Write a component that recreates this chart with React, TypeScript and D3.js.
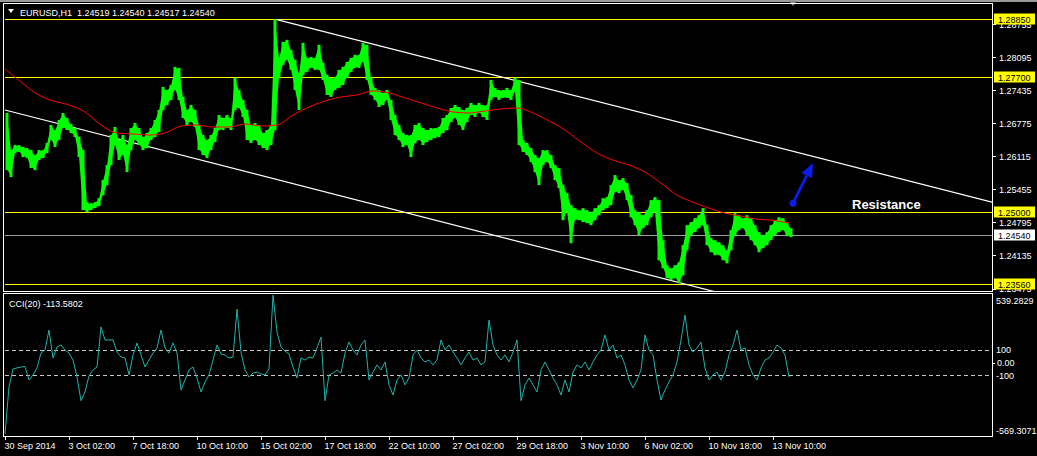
import React from 'react';
import * as d3 from 'd3';

const W = 1037;
const H = 456;

// ---- data ----
const symbolTitle = 'EURUSD,H1  1.24519 1.24540 1.24517 1.24540';
const cciTitle = 'CCI(20) -113.5802';
const groupSize = 4; // hours per sampled bar

const highs = [
  1.2698, 1.2624, 1.2634, 1.2634, 1.2630, 1.2628, 1.2624, 1.2614, 1.2624, 1.2624,
  1.2638, 1.2674, 1.2664, 1.2684, 1.2698, 1.2688, 1.2676, 1.2668, 1.2650, 1.2624,
  1.2520, 1.2518, 1.2520, 1.2528, 1.2564, 1.2594, 1.2654, 1.2670, 1.2644, 1.2654,
  1.2634, 1.2668, 1.2678, 1.2668, 1.2650, 1.2658, 1.2668, 1.2684, 1.2704, 1.2750,
  1.2744, 1.2754, 1.2790, 1.2788, 1.2730, 1.2704, 1.2714, 1.2704, 1.2674, 1.2654,
  1.2644, 1.2654, 1.2668, 1.2694, 1.2688, 1.2694, 1.2688, 1.2768, 1.2744, 1.2724,
  1.2704, 1.2674, 1.2678, 1.2674, 1.2658, 1.2664, 1.2674, 1.2885, 1.2808, 1.2840,
  1.2844, 1.2824, 1.2804, 1.2778, 1.2838, 1.2808, 1.2810, 1.2808, 1.2834, 1.2798,
  1.2774, 1.2768, 1.2770, 1.2784, 1.2790, 1.2800, 1.2808, 1.2814, 1.2814, 1.2838,
  1.2834, 1.2768, 1.2748, 1.2744, 1.2738, 1.2744, 1.2724, 1.2694, 1.2674, 1.2658,
  1.2654, 1.2654, 1.2674, 1.2678, 1.2668, 1.2664, 1.2668, 1.2668, 1.2670, 1.2688,
  1.2694, 1.2708, 1.2714, 1.2710, 1.2704, 1.2708, 1.2718, 1.2714, 1.2718, 1.2714,
  1.2714, 1.2764, 1.2748, 1.2744, 1.2744, 1.2748, 1.2744, 1.2768, 1.2764, 1.2644,
  1.2638, 1.2628, 1.2614, 1.2608, 1.2624, 1.2624, 1.2614, 1.2594, 1.2588, 1.2554,
  1.2538, 1.2514, 1.2508, 1.2504, 1.2508, 1.2504, 1.2500, 1.2508, 1.2514, 1.2528,
  1.2530, 1.2554, 1.2574, 1.2564, 1.2568, 1.2558, 1.2534, 1.2504, 1.2500, 1.2494,
  1.2504, 1.2524, 1.2530, 1.2524, 1.2444, 1.2394, 1.2388, 1.2394, 1.2400, 1.2434,
  1.2474, 1.2480, 1.2488, 1.2494, 1.2508, 1.2474, 1.2448, 1.2444, 1.2440, 1.2434,
  1.2424, 1.2464, 1.2498, 1.2494, 1.2488, 1.2494, 1.2488, 1.2474, 1.2460, 1.2454,
  1.2460, 1.2474, 1.2484, 1.2490, 1.2488, 1.2480, 1.2468,
];

const lows = [
  1.2584, 1.2570, 1.2618, 1.2620, 1.2610, 1.2608, 1.2588, 1.2584, 1.2604, 1.2608,
  1.2618, 1.2644, 1.2630, 1.2644, 1.2668, 1.2664, 1.2658, 1.2650, 1.2610, 1.2504,
  1.2500, 1.2504, 1.2508, 1.2512, 1.2534, 1.2554, 1.2594, 1.2634, 1.2604, 1.2614,
  1.2580, 1.2624, 1.2644, 1.2634, 1.2624, 1.2628, 1.2644, 1.2650, 1.2660, 1.2704,
  1.2714, 1.2724, 1.2744, 1.2724, 1.2688, 1.2674, 1.2680, 1.2670, 1.2624, 1.2614,
  1.2608, 1.2624, 1.2640, 1.2664, 1.2664, 1.2668, 1.2664, 1.2704, 1.2708, 1.2690,
  1.2644, 1.2638, 1.2644, 1.2634, 1.2628, 1.2624, 1.2634, 1.2664, 1.2768, 1.2794,
  1.2804, 1.2784, 1.2744, 1.2704, 1.2774, 1.2780, 1.2788, 1.2784, 1.2784, 1.2764,
  1.2734, 1.2730, 1.2744, 1.2748, 1.2754, 1.2768, 1.2780, 1.2788, 1.2788, 1.2800,
  1.2764, 1.2734, 1.2724, 1.2710, 1.2714, 1.2724, 1.2684, 1.2654, 1.2644, 1.2630,
  1.2634, 1.2610, 1.2638, 1.2644, 1.2634, 1.2640, 1.2644, 1.2648, 1.2650, 1.2658,
  1.2664, 1.2680, 1.2688, 1.2674, 1.2664, 1.2680, 1.2694, 1.2690, 1.2698, 1.2690,
  1.2684, 1.2724, 1.2730, 1.2724, 1.2728, 1.2728, 1.2724, 1.2740, 1.2634, 1.2620,
  1.2614, 1.2600, 1.2580, 1.2554, 1.2594, 1.2600, 1.2588, 1.2564, 1.2548, 1.2484,
  1.2500, 1.2438, 1.2484, 1.2484, 1.2480, 1.2478, 1.2474, 1.2484, 1.2494, 1.2504,
  1.2508, 1.2514, 1.2540, 1.2538, 1.2544, 1.2524, 1.2490, 1.2474, 1.2454, 1.2468,
  1.2474, 1.2490, 1.2500, 1.2404, 1.2388, 1.2368, 1.2364, 1.2368, 1.2358, 1.2374,
  1.2424, 1.2454, 1.2460, 1.2468, 1.2474, 1.2434, 1.2420, 1.2414, 1.2414, 1.2404,
  1.2398, 1.2424, 1.2454, 1.2464, 1.2468, 1.2454, 1.2444, 1.2434, 1.2420, 1.2428,
  1.2434, 1.2444, 1.2454, 1.2460, 1.2464, 1.2452, 1.2450,
];

const maStep = 16;
const maValues = [
  1.2786, 1.2760, 1.2736, 1.2722, 1.2714, 1.2700, 1.2674, 1.2658, 1.2656, 1.2654,
  1.2658, 1.2672, 1.2674, 1.2670, 1.2670, 1.2676, 1.2672, 1.2674, 1.2694, 1.2710,
  1.2722, 1.2730, 1.2734, 1.2742, 1.2738, 1.2728, 1.2718, 1.2708, 1.2700, 1.2698,
  1.2702, 1.2706, 1.2708, 1.2698, 1.2682, 1.2664, 1.2640, 1.2618, 1.2604, 1.2594,
  1.2580, 1.2558, 1.2534, 1.2520, 1.2508, 1.2498, 1.2492, 1.2486, 1.2484, 1.2478,
];

const cciStep = 4;
const cciValues = [
  -560, -190, -50, -42, -35, -30, -137, -97, -42, 75,
  99, 256, 36, 123, 138, 99, 75, 20, -113, -300,
  -230, -105, -58, -35, 280, 178, 178, 178, 83, 44,
  36, -97, 60, 154, 60, -35, 20, 75, 115, 256,
  115, 75, 154, 75, -215, -137, -58, -35, -121, -231,
  -152, -97, 20, 138, 68, 60, 36, 44, 420, 83,
  -58, -113, -82, -74, -90, -97, -50, 530, 240, 123,
  91, 68, -35, -121, 36, 20, 44, 36, 115, 200,
  -300, -97, -82, -58, -82, 75, 162, 99, 60, 138,
  178, -137, -74, -18, -58, 5, -175, -255, -137, -97,
  -175, -121, 60, 99, 36, 5, 20, -18, 20, 178,
  99, 138, 83, 36, -18, 36, 83, 20, 36, -18,
  5, 335, 138, 60, 20, 60, 5, 83, 178, -300,
  -175, -121, -175, -231, -58, 5, -58, -121, -175, -255,
  -137, -231, -74, -18, -42, 5, -58, 5, 60, 99,
  217, 99, 138, 36, 60, -18, -137, -199, -137, -58,
  217, 99, 60, -137, -294, -215, -152, -97, 5, 178,
  374, 138, 83, 115, 162, -42, -137, -97, -74, -137,
  -74, 60, 138, 256, 99, 115, -18, -97, -137, -42,
  20, 36, 83, 138, 115, 60, -114,
];

const cciMax = 539.2829;
const cciMin = -569.3071;
const cciLevels = [100, -100];

const priceMax = 1.2885;
const priceMin = 1.2356;
const priceTicks = [1.28755, 1.28095, 1.27435, 1.26775, 1.26115, 1.25455, 1.24795, 1.24135, 1.23475];
const yellowLevels = [1.2885, 1.277, 1.25, 1.2356];
const lastPrice = 1.2454;

const timeLabels = [
  '30 Sep 2014', '3 Oct 02:00', '7 Oct 18:00', '10 Oct 10:00', '15 Oct 02:00',
  '17 Oct 18:00', '22 Oct 10:00', '27 Oct 02:00', '29 Oct 18:00', '3 Nov 10:00',
  '6 Nov 02:00', '10 Nov 18:00', '13 Nov 10:00',
];
const timeLabelStep = 64; // bars between labels
const visibleBars = 987;
const shiftMarkerBar = 788;

const channelUpper = [{ bar: 271, price: 1.2885 }, { bar: 987, price: 1.252 }];
const channelLower = [{ bar: 0, price: 1.2704 }, { bar: 720, price: 1.2336 }];

const arrowFrom = { bar: 788, price: 1.2518 };
const arrowTo = { bar: 808, price: 1.2598 };
const resistanceLabel = { bar: 847, price: 1.2506, text: 'Resistance' };

// ---- layout ----
const plotL = 5;
const plotR = 992;
const mainTop = 3;
const mainBot = 291;
const cciTop = 293;
const cciBot = 436;
const FONT = '"Liberation Sans", Arial, sans-serif';

export default function App() {
  const x = d3.scaleLinear().domain([0, visibleBars]).range([plotL, plotR]);
  const y = d3.scaleLinear().domain([priceMin, priceMax]).range([284.3, 19.3]);
  const yc = d3.scaleLinear().domain([cciMin, cciMax]).range([435, 294]);

  const priceBand = d3
    .area<number>()
    .x((_, i) => x(i * groupSize + groupSize / 2))
    .y0((_, i) => y(lows[i]) - 1)
    .y1((d) => y(d) + 1)
    .curve(d3.curveLinear);

  const maLine = d3
    .line<number>()
    .x((_, i) => x(i * maStep))
    .y((d) => y(d))
    .curve(d3.curveMonotoneX);

  const cciLine = d3
    .line<number>()
    .x((_, i) => x(i * cciStep))
    .y((d) => yc(d));

  const chan = d3
    .line<{ bar: number; price: number }>()
    .x((d) => x(d.bar))
    .y((d) => y(d.price));

  // arrow geometry
  const ax0 = x(arrowFrom.bar), ay0 = y(arrowFrom.price);
  const ax1 = x(arrowTo.bar), ay1 = y(arrowTo.price);
  const len = Math.hypot(ax1 - ax0, ay1 - ay0);
  const ux = (ax1 - ax0) / len, uy = (ay1 - ay0) / len;
  const headL = 14, headW = 6;
  const bx = ax1 - ux * headL, by = ay1 - uy * headL;
  const head = `${ax1},${ay1} ${bx - uy * headW},${by + ux * headW} ${bx + uy * headW},${by - ux * headW}`;

  const labelBox = (v: number, bg: string, key: string) => (
    <g key={key}>
      <rect x={994} y={Math.round(y(v)) - 5.5} width={41} height={11} fill={bg} />
      <text x={998} y={Math.round(y(v)) + 3.5} fontSize={9} fill="#000" fontFamily={FONT}>
        {v.toFixed(5)}
      </text>
    </g>
  );

  const sx = x(shiftMarkerBar);

  return (
    <svg
      width={W}
      height={H}
      style={{ position: 'absolute', left: 0, top: 0, background: '#000' }}
    >
      <defs>
        <clipPath id="mainClip">
          <rect x={plotL - 1} y={mainTop + 1} width={plotR - plotL + 1} height={mainBot - mainTop - 1} />
        </clipPath>
        <clipPath id="cciClip">
          <rect x={plotL - 1} y={cciTop + 1} width={plotR - plotL + 1} height={cciBot - cciTop - 1} />
        </clipPath>
        <clipPath id="axisClip">
          <rect x={993} y={mainTop + 1} width={44} height={mainBot - mainTop} />
        </clipPath>
      </defs>
      <rect x={0} y={0} width={W} height={H} fill="#000" />
      <rect x={0} y={0} width={W} height={2} fill="#9a9a9a" />
      <polygon points={`${sx - 4},1 ${sx + 4},1 ${sx},6`} fill="#8a8a8a" />

      {/* frames */}
      <rect x={3.5} y={mainTop + 0.5} width={plotR - 3} height={mainBot - mainTop} fill="none" stroke="#fff" />
      <rect x={3.5} y={cciTop + 0.5} width={plotR - 3} height={cciBot - cciTop} fill="none" stroke="#fff" />

      <g clipPath="url(#mainClip)">
        {/* horizontal levels */}
        {yellowLevels.map((v) => (
          <line key={v} x1={plotL} x2={plotR} y1={Math.round(y(v)) + 0.5} y2={Math.round(y(v)) + 0.5} stroke="#ffff00" />
        ))}
        <line x1={plotL} x2={plotR} y1={Math.round(y(lastPrice)) + 0.5} y2={Math.round(y(lastPrice)) + 0.5} stroke="#a0a0a0" />

        {/* channel */}
        <path d={chan(channelUpper) || ''} fill="none" stroke="#fff" strokeWidth={1.2} />
        <path d={chan(channelLower) || ''} fill="none" stroke="#fff" strokeWidth={1.2} />

        {/* price bars: each sampled bar spans its high-low range */}
        <path d={priceBand(highs) || ''} fill="#00ff00" />
        {highs.map((h, i) => {
          const top = y(h);
          const bot = y(lows[i]);
          return (
            <rect
              key={i}
              x={x(i * groupSize) + 0.5}
              y={top}
              width={groupSize - 1}
              height={Math.max(1, bot - top)}
              fill="#00ff00"
            />
          );
        })}

        {/* moving average */}
        <path d={maLine(maValues) || ''} fill="none" stroke="#ff0000" strokeWidth={1} />

        {/* arrow annotation */}
        <line x1={ax0} y1={ay0} x2={bx} y2={by} stroke="#0a1ee8" strokeWidth={3} />
        <polygon points={head} fill="#0a1ee8" />
        <circle cx={ax0} cy={ay0} r={3.5} fill="#0a1ee8" />
        <text
          x={x(resistanceLabel.bar)}
          y={y(resistanceLabel.price)}
          fontSize={13}
          fontWeight="bold"
          fill="#fff"
          fontFamily={FONT}
        >
          {resistanceLabel.text}
        </text>
      </g>

      {/* header */}
      <polygon points="8,9 14,9 11,13" fill="#fff" />
      <text x={20} y={16} fontSize={9} fill="#fff" fontFamily={FONT} style={{ whiteSpace: 'pre' }}>
        {symbolTitle}
      </text>

      {/* price axis */}
      <g clipPath="url(#axisClip)">
        {priceTicks.map((v) => (
          <g key={v}>
            <line x1={993} x2={996} y1={Math.round(y(v)) + 0.5} y2={Math.round(y(v)) + 0.5} stroke="#fff" />
            <text x={999} y={y(v) + 3.5} fontSize={9} fill="#fff" fontFamily={FONT}>
              {v.toFixed(5)}
            </text>
          </g>
        ))}
      </g>
      {yellowLevels.map((v) => labelBox(v, '#ffff00', 'y' + v))}
      {labelBox(lastPrice, '#ffffff', 'last')}

      {/* CCI */}
      <g clipPath="url(#cciClip)">
        {cciLevels.map((v) => (
          <line
            key={v}
            x1={plotL}
            x2={plotR}
            y1={Math.round(yc(v)) + 0.5}
            y2={Math.round(yc(v)) + 0.5}
            stroke="#c8c8c8"
            strokeDasharray="4,3"
          />
        ))}
        <path d={cciLine(cciValues) || ''} fill="none" stroke="#20b2aa" strokeWidth={1} />
      </g>
      <text x={9} y={307} fontSize={9} fill="#fff" fontFamily={FONT}>
        {cciTitle}
      </text>
      <text x={996} y={304} fontSize={9} fill="#fff" fontFamily={FONT}>{cciMax.toFixed(4)}</text>
      {cciLevels.map((v) => (
        <text key={v} x={996} y={yc(v) + 3.5} fontSize={9} fill="#fff" fontFamily={FONT}>{v}</text>
      ))}
      <line x1={993} x2={995} y1={Math.round(yc(0)) + 0.5} y2={Math.round(yc(0)) + 0.5} stroke="#fff" />
      <text x={997} y={yc(0) + 3.5} fontSize={9} fill="#fff" fontFamily={FONT}>0.00</text>
      <text x={996} y={434} fontSize={9} fill="#fff" fontFamily={FONT}>{cciMin.toFixed(4)}</text>

      {/* time axis */}
      {timeLabels.map((t, i) => {
        const tx = Math.round(x(i * timeLabelStep)) + 0.5;
        return (
          <g key={t}>
            <line x1={tx} x2={tx} y1={cciBot} y2={cciBot + 4} stroke="#fff" />
            <text x={tx - 1} y={449} fontSize={9} fill="#fff" fontFamily={FONT}>{t}</text>
          </g>
        );
      })}
    </svg>
  );
}
